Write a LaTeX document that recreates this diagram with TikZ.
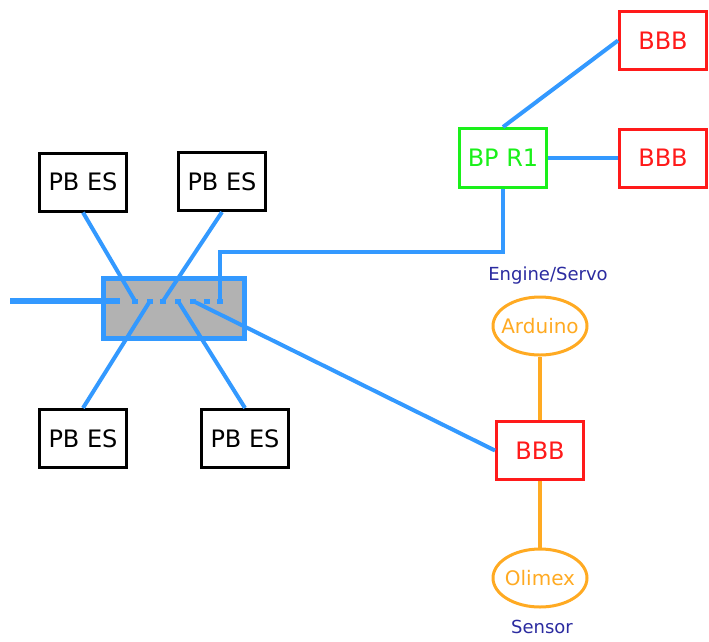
\documentclass[tikz,border=0pt]{standalone}
\usepackage{fontspec}
\setmainfont{DejaVu Sans}
\usetikzlibrary{shapes.geometric}
\definecolor{netblue}{HTML}{3399FF}
\definecolor{bbbred}{HTML}{FF1A1A}
\definecolor{bpgreen}{HTML}{1AF01A}
\definecolor{ardorange}{HTML}{FFAA22}
\definecolor{labblue}{HTML}{2B2BA0}
\begin{document}
\begin{tikzpicture}[x=1pt,y=-1pt,
  pbes/.style={draw=black,line width=3pt,minimum width=87pt,minimum height=58pt,font=\fontsize{24}{28}\selectfont},
  bbb/.style={draw=bbbred,text=bbbred,line width=3pt,minimum width=87pt,minimum height=58pt,font=\fontsize{24}{28}\selectfont},
  bpr/.style={draw=bpgreen,text=bpgreen,line width=3pt,minimum width=87pt,minimum height=59pt,font=\fontsize{24}{28}\selectfont},
  board/.style={draw=ardorange,text=ardorange,ellipse,line width=3pt,minimum width=94pt,minimum height=58pt,inner ysep=0pt,inner xsep=-14pt,font=\fontsize{20}{24}\selectfont},
  lab/.style={text=labblue,font=\fontsize{18}{21}\selectfont},
  port/.style={fill=netblue,inner sep=0pt,minimum width=6pt,minimum height=5pt},
  link/.style={draw=netblue,line width=4pt},
  wire/.style={draw=ardorange,line width=3.5pt}]
\useasboundingbox (0,0) rectangle (709,641);
\node[draw=netblue,fill=black!30,line width=5pt,minimum width=141pt,minimum height=60pt] (switch) at (173.5,308) {};
\node[pbes] (pbtl) at (83,182) {PB ES};
\node[pbes] (pbtr) at (222,181.5) {PB ES};
\node[pbes] (pbbl) at (83,438.5) {PB ES};
\node[pbes] (pbbr) at (245,438.5) {PB ES};
\node[bpr] (bpr1) at (503,158) {BP R1};
\node[bbb] (bbbtop) at (663,40.5) {BBB};
\node[bbb] (bbbmid) at (663,158) {BBB};
\node[bbb] (bbbbot) at (540,450.5) {BBB};
\node[board] (arduino) at (540,326) {Arduino};
\node[board] (olimex) at (540,578) {Olimex};
\node[lab] (engine) at (548,276) {Engine/Servo};
\node[lab] (sensor) at (542,627) {Sensor};
\foreach \n/\x in {p1/135,p2/150,p3/163,p4/178,p5/193,p6/207,p7/220}
  \node[port] (\n) at (\x,301) {};
\coordinate (uplink) at (10,301);
\coordinate (bend1) at (220,252);
\coordinate (bend2) at (503,252);
\draw[link,line width=6pt] (uplink) -- (120,301);
\draw[link] (pbtl.south) -- (p1.center);
\draw[link] (pbbl.north) -- (p2.center);
\draw[link] (pbtr.south) -- (p3.center);
\draw[link] (pbbr.north) -- (p4.center);
\draw[link] (p5.center) -- (bbbbot.west);
\draw[link] (p7.center) -- (bend1) -- (bend2) -- (bpr1.south);
\draw[link] (bpr1.north) -- (bbbtop.west);
\draw[link] (bpr1.east) -- (bbbmid.west);
\draw[wire] (arduino.south) -- (bbbbot.north);
\draw[wire] (bbbbot.south) -- (olimex.north);
\end{tikzpicture}
\end{document}
